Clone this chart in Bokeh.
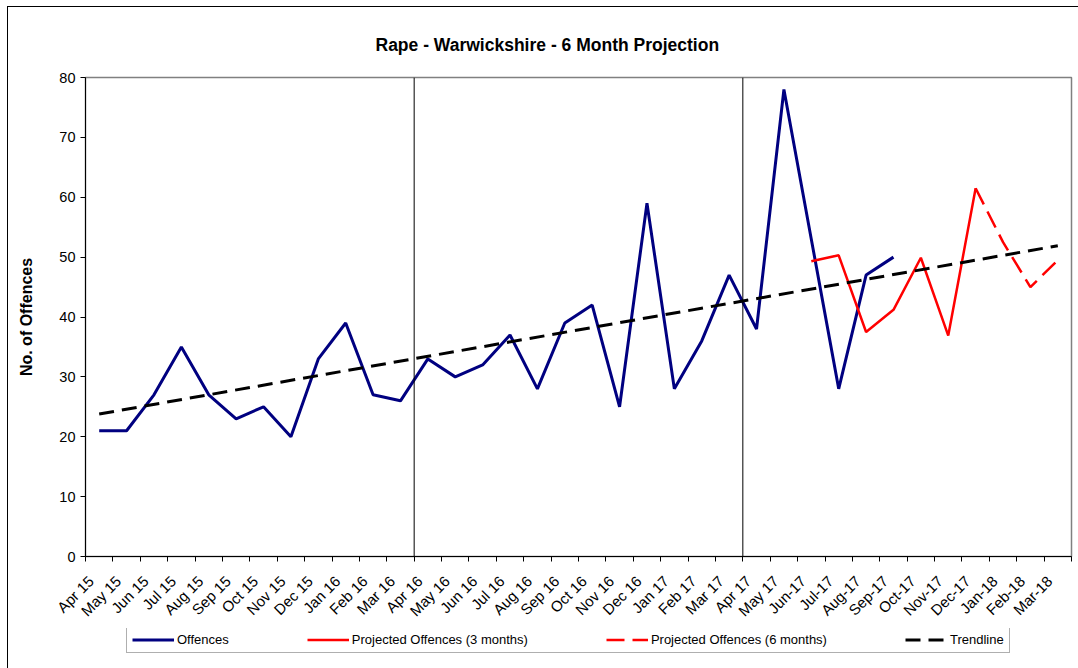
import math
from bokeh.plotting import figure
from bokeh.layouts import column
from bokeh.models import Range1d, FixedTicker, Legend, LegendItem, Span
from bokeh.embed import file_html
from bokeh.resources import INLINE

months = ["Apr 15", "May 15", "Jun 15", "Jul 15", "Aug 15", "Sep 15", "Oct 15", "Nov 15",
          "Dec 15", "Jan 16", "Feb 16", "Mar 16", "Apr 16", "May 16", "Jun 16", "Jul 16",
          "Aug 16", "Sep 16", "Oct 16", "Nov 16", "Dec 16", "Jan 17", "Feb 17", "Mar 17",
          "Apr 17", "May 17", "Jun-17", "Jul-17", "Aug-17", "Sep-17", "Oct-17", "Nov-17",
          "Dec-17", "Jan-18", "Feb-18", "Mar-18"]

offences = [21, 21, 27, 35, 27, 23, 25, 20, 33, 39, 27, 26,
            33, 30, 32, 37, 28, 39, 42, 25, 59, 28, 36, 47,
            38, 78, 53, 28, 47, 50]

proj3_months = ["Jun-17", "Jul-17", "Aug-17", "Sep-17", "Oct-17", "Nov-17", "Dec-17"]
proj3 = [49.3, 50.3, 37.5, 41.2, 49.9, 36.9, 61.5]

proj6_months = ["Dec-17", "Jan-18", "Feb-18", "Mar-18"]
proj6 = [61.5, 52.5, 45.0, 49.5]

trend_months = ["Apr 15", "Mar-18"]
trend = [23.8, 51.9]

divider_months = ["Apr 16", "Apr 17"]

series_names = ["Offences", "Projected Offences (3 months)",
                "Projected Offences (6 months)", "Trendline"]

FONT = "Liberation Sans"
BLUE, RED = "#000080", "#ff0000"
STYLES = [dict(line_color=BLUE, line_width=3),
          dict(line_color=RED, line_width=2.5),
          dict(line_color=RED, line_width=2.5, line_dash="18 8"),
          dict(line_color="black", line_width=3, line_dash="15 8")]


def xpos(labels):
    return [months.index(m) + 0.5 for m in labels]


series = [(xpos(months[:len(offences)]), offences),
          (xpos(proj3_months), proj3),
          (xpos(proj6_months), proj6),
          (xpos(trend_months), trend)]

p = figure(frame_width=986, frame_height=479, output_backend="svg", toolbar_location=None,
           x_range=Range1d(0, len(months)), y_range=Range1d(0, 80),
           min_border_left=77, min_border_right=7, min_border_top=70, min_border_bottom=70)

p.title.text = "Rape - Warwickshire - 6 Month Projection"
p.title.text_font = FONT
p.title.text_font_size = "17.5px"
p.title.text_font_style = "bold"
p.title.text_color = "black"
p.title.align = "left"
p.title.offset = 290
p.title.standoff = 46

p.xgrid.visible = False
p.ygrid.visible = False
p.outline_line_color = "#808080"
p.outline_line_width = 1.5

# y axis
ya = p.yaxis[0]
ya.ticker = FixedTicker(ticks=list(range(0, 81, 10)))
ya.axis_label = "No. of Offences"
ya.axis_label_text_font = FONT
ya.axis_label_text_font_size = "16px"
ya.axis_label_text_font_style = "bold"
ya.axis_label_text_color = "black"
ya.axis_label_standoff = 21
ya.major_label_text_font = FONT
ya.major_label_text_font_size = "14.5px"
ya.major_label_text_color = "black"
ya.major_tick_in = 0
ya.major_tick_out = 5
ya.minor_tick_line_color = None
ya.axis_line_color = "black"
ya.major_tick_line_color = "black"

# x axis: labels hang just left of each category centre, ticks at category edges
xa = p.xaxis[0]
label_pos = [i + 0.2 for i in range(len(months))]
xa.ticker = FixedTicker(ticks=label_pos, minor_ticks=list(range(len(months) + 1)))
xa.major_label_overrides = {c: m for c, m in zip(label_pos, months)}
xa.major_label_orientation = math.pi / 4
xa.major_label_text_font = FONT
xa.major_label_text_font_size = "15px"
xa.major_label_text_color = "black"
xa.major_label_standoff = 16
xa.major_tick_line_color = None
xa.minor_tick_line_color = "black"
xa.minor_tick_in = 0
xa.minor_tick_out = 5
xa.axis_line_color = "black"

for m in divider_months:
    p.add_layout(Span(location=months.index(m), dimension="height",
                      line_color="black", line_width=1))

for (xs, ys), st in zip(series, STYLES):
    p.line(xs, ys, **st)

# legend strip below the chart (its frame is aligned with the chart frame)
leg = figure(width=1070, height=42, output_backend="svg", toolbar_location=None,
             x_range=Range1d(-200, -199), y_range=Range1d(-200, -199),
             x_axis_type=None, y_axis_type=None, min_border=0)
leg.xgrid.visible = False
leg.ygrid.visible = False
leg.outline_line_color = None
leg_renderers = [leg.line(xs, ys, **st) for (xs, ys), st in zip(series, STYLES)]

legend = Legend(items=[LegendItem(label=n, renderers=[r])
                       for n, r in zip(series_names, leg_renderers)],
                orientation="horizontal", location=(41, 17))
legend.label_text_font = FONT
legend.label_text_font_size = "13px"
legend.label_text_color = "black"
legend.glyph_width = 42
legend.glyph_height = 15
legend.label_height = 15
legend.label_standoff = 3
legend.spacing = 78
legend.padding = 5
legend.margin = 0
legend.border_line_color = "#606060"
legend.border_line_width = 1.5
legend.background_fill_alpha = 1
leg.add_layout(legend)

layout = column(p, leg, spacing=0)
layout.styles = {"border-left": "1px solid black", "border-top": "1px solid black",
                 "margin-left": "7px", "margin-top": "6px"}

open("out.html", "w").write(file_html(layout, INLINE))
